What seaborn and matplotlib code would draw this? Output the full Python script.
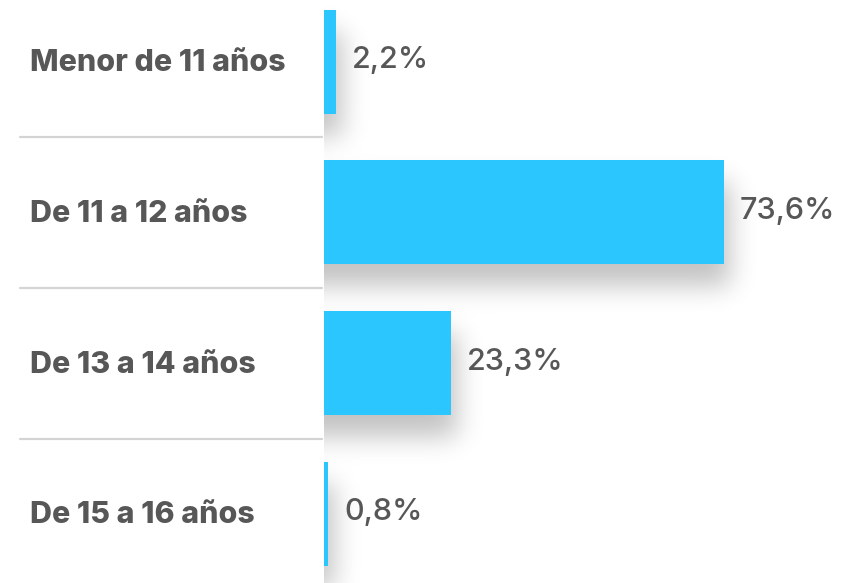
import numpy as np
import pandas as pd
import matplotlib
matplotlib.use("Agg")
import matplotlib.pyplot as plt
import matplotlib.transforms as mtransforms
from matplotlib.lines import Line2D
import seaborn as sns

# ── data ──────────────────────────────────────────────
categories = ["Menor de 11 años", "De 11 a 12 años", "De 13 a 14 años", "De 15 a 16 años"]
values = [2.2, 73.6, 23.3, 0.8]
value_labels = ["2,2%", "73,6%", "23,3%", "0,8%"]

BAR_COLOR = "#2BC6FE"
TEXT_COLOR = "#575757"
LINE_COLOR = "#d4d4d4"
W, H, DPI = 858, 583, 100
AX_LEFT = 324          # px where bars start
PX_PER_PCT = 5.435

sns.set_theme(style="white")
plt.rcParams["font.family"] = ["Inter", "DejaVu Sans"]

df = pd.DataFrame({"grupo": categories, "pct": values})

fig = plt.figure(figsize=(W / DPI, H / DPI), dpi=DPI)
ax = fig.add_axes([AX_LEFT / W, 0, 1 - AX_LEFT / W, 1])
sns.barplot(data=df, x="pct", y="grupo", orient="h", color=BAR_COLOR,
            width=0.69, saturation=1, ax=ax, zorder=3, linewidth=0)
xlim = (0, (W - AX_LEFT) / PX_PER_PCT)
ylim = (3.458, -0.408)
ax.set_xlim(*xlim)
ax.set_ylim(*ylim)
ax.axis("off")

# ── soft drop shadow under each bar ───────────────────
pad = 90
nx, ny = W - AX_LEFT + 2 * pad, H + 2 * pad
mask = np.zeros((ny, nx))
for p in ax.patches:
    (x0, y0), (x1, y1) = ax.transData.transform(
        [[p.get_x(), p.get_y()], [p.get_x() + p.get_width(), p.get_y() + p.get_height()]])
    top, bot = H - max(y0, y1), H - min(y0, y1)
    r0, r1 = int(round(top + 22)) + pad, int(round(bot + 22)) + pad
    c1 = int(round(max(x0, x1) - AX_LEFT + 6)) + pad
    mask[r0:r1, 0:c1] = 1.0

sigma = 13
k = np.arange(-3 * sigma, 3 * sigma + 1)
kern = np.exp(-k ** 2 / (2 * sigma ** 2))
kern /= kern.sum()
blur = np.apply_along_axis(lambda v: np.convolve(v, kern, mode="same"), 0, mask)
blur = np.apply_along_axis(lambda v: np.convolve(v, kern, mode="same"), 1, blur)
blur = blur[pad:pad + H, pad:pad + W - AX_LEFT]

img = np.zeros((H, W - AX_LEFT, 4))
img[..., 3] = blur * 0.24
ax.imshow(img, extent=(xlim[0], xlim[1], ylim[0], ylim[1]), aspect="auto",
          interpolation="bilinear", zorder=1)
ax.set_xlim(*xlim)
ax.set_ylim(*ylim)

# ── value labels ──────────────────────────────────────
for p, lab in zip(ax.patches, value_labels):
    yc = p.get_y() + p.get_height() / 2
    ax.text(p.get_width() + 16 / PX_PER_PCT, yc - 0.01, lab, ha="left", va="center",
            fontsize=22, fontweight="medium", color=TEXT_COLOR, zorder=4)

# ── category labels + separators ──────────────────────
blend = mtransforms.blended_transform_factory(fig.transFigure, ax.transData)
for i, cat in enumerate(categories):
    fig.text(30 / W, i + 0.01, cat, transform=blend, ha="left", va="center",
             fontsize=21.8, fontweight="heavy", color=TEXT_COLOR)
for i in range(len(categories) - 1):
    fig.add_artist(Line2D([20 / W, 322 / W], [i + 0.5, i + 0.5], transform=blend,
                          color=LINE_COLOR, lw=1.6))

fig.savefig("out.png", dpi=DPI)
